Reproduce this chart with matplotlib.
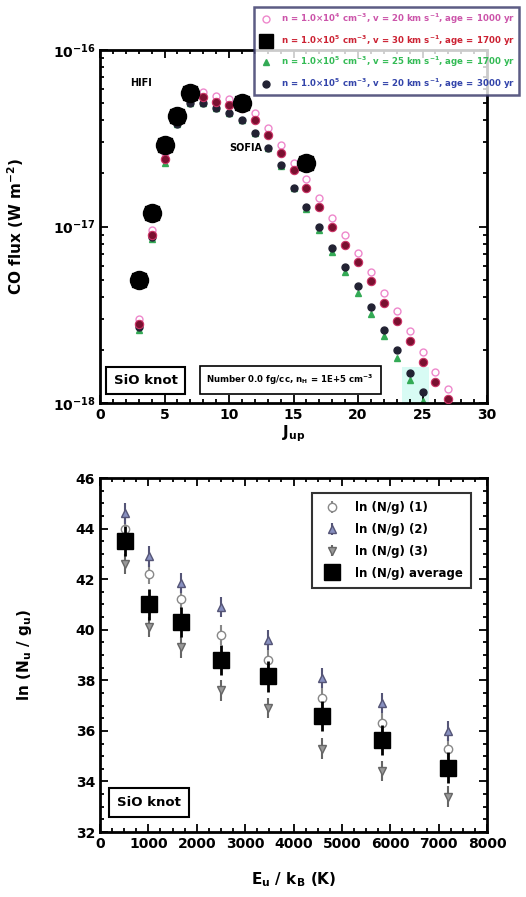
import matplotlib
matplotlib.use("Agg")
import matplotlib.pyplot as plt
from matplotlib.patches import Rectangle
import numpy as np

# ---------------- top panel data (CO SLED) ----------------
J_obs = [3, 4, 5, 6, 7, 11, 16]
flux_obs = [5.0e-18, 1.2e-17, 2.9e-17, 4.2e-17, 5.7e-17, 5.0e-17, 2.3e-17]

J_mod = [3, 4, 5, 6, 7, 8, 9, 10, 11, 12, 13, 14, 15, 16, 17, 18, 19, 20,
         21, 22, 23, 24, 25, 26, 27]
flux_pink = [3.0e-18, 9.5e-18, 2.6e-17, 4.3e-17, 5.8e-17, 5.8e-17, 5.5e-17,
             5.3e-17, 5.1e-17, 4.4e-17, 3.6e-17, 2.9e-17, 2.3e-17, 1.85e-17,
             1.45e-17, 1.12e-17, 8.9e-18, 7.1e-18, 5.5e-18, 4.2e-18, 3.3e-18,
             2.55e-18, 1.95e-18, 1.5e-18, 1.2e-18]
flux_red = [2.8e-18, 8.9e-18, 2.4e-17, 4.0e-17, 5.4e-17, 5.4e-17, 5.1e-17,
            4.9e-17, 4.7e-17, 4.0e-17, 3.3e-17, 2.6e-17, 2.1e-17, 1.66e-17,
            1.29e-17, 1.0e-17, 7.9e-18, 6.3e-18, 4.9e-18, 3.7e-18, 2.9e-18,
            2.24e-18, 1.7e-18, 1.32e-18, 1.05e-18]
flux_green = [2.6e-18, 8.5e-18, 2.3e-17, 3.8e-17, 5.0e-17, 5.0e-17, 4.7e-17,
              4.4e-17, 4.0e-17, 3.4e-17, 2.8e-17, 2.2e-17, 1.65e-17, 1.25e-17,
              9.5e-18, 7.2e-18, 5.5e-18, 4.2e-18, 3.2e-18, 2.4e-18, 1.8e-18,
              1.35e-18, 1.02e-18, 8.0e-19, 6.0e-19]
flux_navy = [2.7e-18, 8.7e-18, 2.8e-17, 3.8e-17, 5.0e-17, 5.0e-17, 4.7e-17,
             4.4e-17, 4.0e-17, 3.4e-17, 2.8e-17, 2.24e-17, 1.66e-17, 1.29e-17,
             1.0e-17, 7.6e-18, 5.9e-18, 4.6e-18, 3.5e-18, 2.6e-18, 2.0e-18,
             1.48e-18, 1.15e-18, 9.0e-19, 7.0e-19]

legend_top = [
    "n = 1.0×10$^{4}$ cm$^{-3}$, v = 20 km s$^{-1}$, age = 1000 yr",
    "n = 1.0×10$^{5}$ cm$^{-3}$, v = 30 km s$^{-1}$, age = 1700 yr",
    "n = 1.0×10$^{5}$ cm$^{-3}$, v = 25 km s$^{-1}$, age = 1700 yr",
    "n = 1.0×10$^{5}$ cm$^{-3}$, v = 20 km s$^{-1}$, age = 3000 yr",
]

# ---------------- bottom panel data (H2 rotation diagram) ----------------
E_u = [510, 1015, 1682, 2504, 3474, 4586, 5829, 7197]
ln_1 = [44.0, 42.2, 41.2, 39.8, 38.8, 37.3, 36.3, 35.3]
ln_2 = [44.6, 42.9, 41.85, 40.9, 39.6, 38.1, 37.1, 36.0]
ln_3 = [42.6, 40.1, 39.3, 37.6, 36.9, 35.3, 34.4, 33.4]
ln_avg = [43.5, 41.0, 40.3, 38.8, 38.15, 36.6, 35.65, 34.55]
err_1 = [0.4] * 8
err_2 = [0.4] * 8
err_3 = [0.4] * 8
err_avg = [0.6] * 8
legend_bot = ["ln (N/g) (1)", "ln (N/g) (2)", "ln (N/g) (3)", "ln (N/g) average"]

plt.rcParams['font.family'] = ['DejaVu Sans']
plt.rcParams['font.weight'] = 'bold'

fig = plt.figure(figsize=(5.26, 8.97), dpi=100)
W, H = 526, 897

def ax_rect(x0, y0, x1, y1):
    return [x0 / W, 1 - y1 / H, (x1 - x0) / W, (y1 - y0) / H]

ax1 = fig.add_axes(ax_rect(100, 50, 487, 403))
ax2 = fig.add_axes(ax_rect(100, 478, 487, 832))

for ax in (ax1, ax2):
    for s in ax.spines.values():
        s.set_linewidth(2.0)
    ax.tick_params(which='both', direction='in', top=True, right=True,
                   labelsize=10, width=1.3)
    ax.tick_params(which='major', length=6)
    ax.tick_params(which='minor', length=3)

# ---- top panel ----
ax1.set_yscale('log')
ax1.set_xlim(0, 30)
ax1.set_ylim(1e-18, 1e-16)
ax1.add_patch(Rectangle((23.4, 1e-18), 2.1, 0.6e-18, facecolor='#d8fbf4',
                        edgecolor='none', zorder=0))
h1, = ax1.plot(J_mod, flux_pink, 'o', ms=5, mfc='none', mec='#ee88cc', mew=1.0, zorder=2)
h3, = ax1.plot(J_mod, flux_green, '^', ms=4, color='#33aa55', zorder=2)
h4, = ax1.plot(J_mod, flux_navy, 'o', ms=5, color='#222233', zorder=3)
ax1.plot(J_mod, flux_red, 'o', ms=6, color='#7a1030', mec='#cc3366', mew=0.8, zorder=4)
h2, = ax1.plot(J_obs, flux_obs, 's', ms=10, color='black', zorder=5)
ax1.plot(J_obs, flux_obs, 'o', ms=13, color='black', zorder=5)

ax1.set_xticks([0, 5, 10, 15, 20, 25, 30])
ax1.xaxis.set_minor_locator(matplotlib.ticker.MultipleLocator(1))
ax1.set_xlabel('J$_{\\rm up}$', fontsize=11, fontweight='bold', labelpad=1)
ax1.set_ylabel('CO flux (W m$^{-2}$)', fontsize=11, fontweight='bold')
ax1.yaxis.set_label_coords(-0.19, 0.5)
ax1.text(2.3, 6.5e-17, 'HIFI', fontsize=7, fontweight='bold', va='center')
ax1.text(10.0, 2.8e-17, 'SOFIA', fontsize=7, fontweight='bold', va='center')

ax1.text(0.035, 0.045, 'SiO knot', transform=ax1.transAxes, fontsize=9.5,
         fontweight='bold', va='bottom',
         bbox=dict(boxstyle='square,pad=0.55', fc='white', ec='black', lw=1.5))
ax1.text(0.275, 0.045, 'Number 0.0 fg/cc, n$_{\\rm H}$ = 1E+5 cm$^{-3}$',
         transform=ax1.transAxes, fontsize=6.2, fontweight='bold', va='bottom',
         bbox=dict(boxstyle='square,pad=0.8', fc='white', ec='black', lw=1.2))

leg1 = fig.legend([h1, h2, h3, h4], legend_top, loc='upper left',
                  bbox_to_anchor=(250 / W, 1 - 3 / H), fontsize=6.2,
                  frameon=True, fancybox=False, edgecolor='#333366',
                  labelspacing=0.85, handletextpad=1.0, borderpad=0.5,
                  handlelength=1.6)
leg1.get_frame().set_linewidth(1.8)
for t, c in zip(leg1.get_texts(), ['#cc55aa', '#cc2233', '#33bb55', '#3344aa']):
    t.set_color(c)

# ---- bottom panel ----
ax2.set_xlim(0, 8000)
ax2.set_ylim(32, 46)
g1 = ax2.errorbar(E_u, ln_1, yerr=err_1, fmt='o', ms=6, mfc='white', mec='#888888',
                  ecolor='#888888', capsize=0, zorder=2)
g2 = ax2.errorbar(E_u, ln_2, yerr=err_2, fmt='^', ms=6, mfc='#8890c0', mec='#555577',
                  ecolor='#555577', capsize=0, zorder=2)
g3 = ax2.errorbar(E_u, ln_3, yerr=err_3, fmt='v', ms=6, mfc='#999999', mec='#666666',
                  ecolor='#666666', capsize=0, zorder=2)
g4 = ax2.errorbar(E_u, ln_avg, yerr=err_avg, fmt='s', ms=11, color='black',
                  ecolor='black', elinewidth=2, capsize=0, zorder=3)
ax2.set_xticks(np.arange(0, 8001, 1000))
ax2.set_yticks(np.arange(32, 47, 2))
ax2.xaxis.set_minor_locator(matplotlib.ticker.MultipleLocator(250))
ax2.yaxis.set_minor_locator(matplotlib.ticker.MultipleLocator(0.5))
ax2.set_xlabel('E$_{\\rm u}$ / k$_{\\rm B}$ (K)', fontsize=11, fontweight='bold', labelpad=14)
ax2.set_ylabel('ln (N$_{\\rm u}$ / g$_{\\rm u}$)', fontsize=11, fontweight='bold')
ax2.yaxis.set_label_coords(-0.17, 0.5)
leg2 = ax2.legend([g1, g2, g3, g4], legend_bot, loc='upper right', fontsize=8.5,
                  frameon=True, fancybox=False, edgecolor='black',
                  bbox_to_anchor=(0.975, 0.975), labelspacing=0.75, borderpad=0.7,
                  handletextpad=1.0)
leg2.get_frame().set_linewidth(1.5)
ax2.text(0.045, 0.065, 'SiO knot', transform=ax2.transAxes, fontsize=9.5,
         fontweight='bold', va='bottom',
         bbox=dict(boxstyle='square,pad=0.6', fc='white', ec='black', lw=1.5))

fig.savefig('out.png', dpi=100)
